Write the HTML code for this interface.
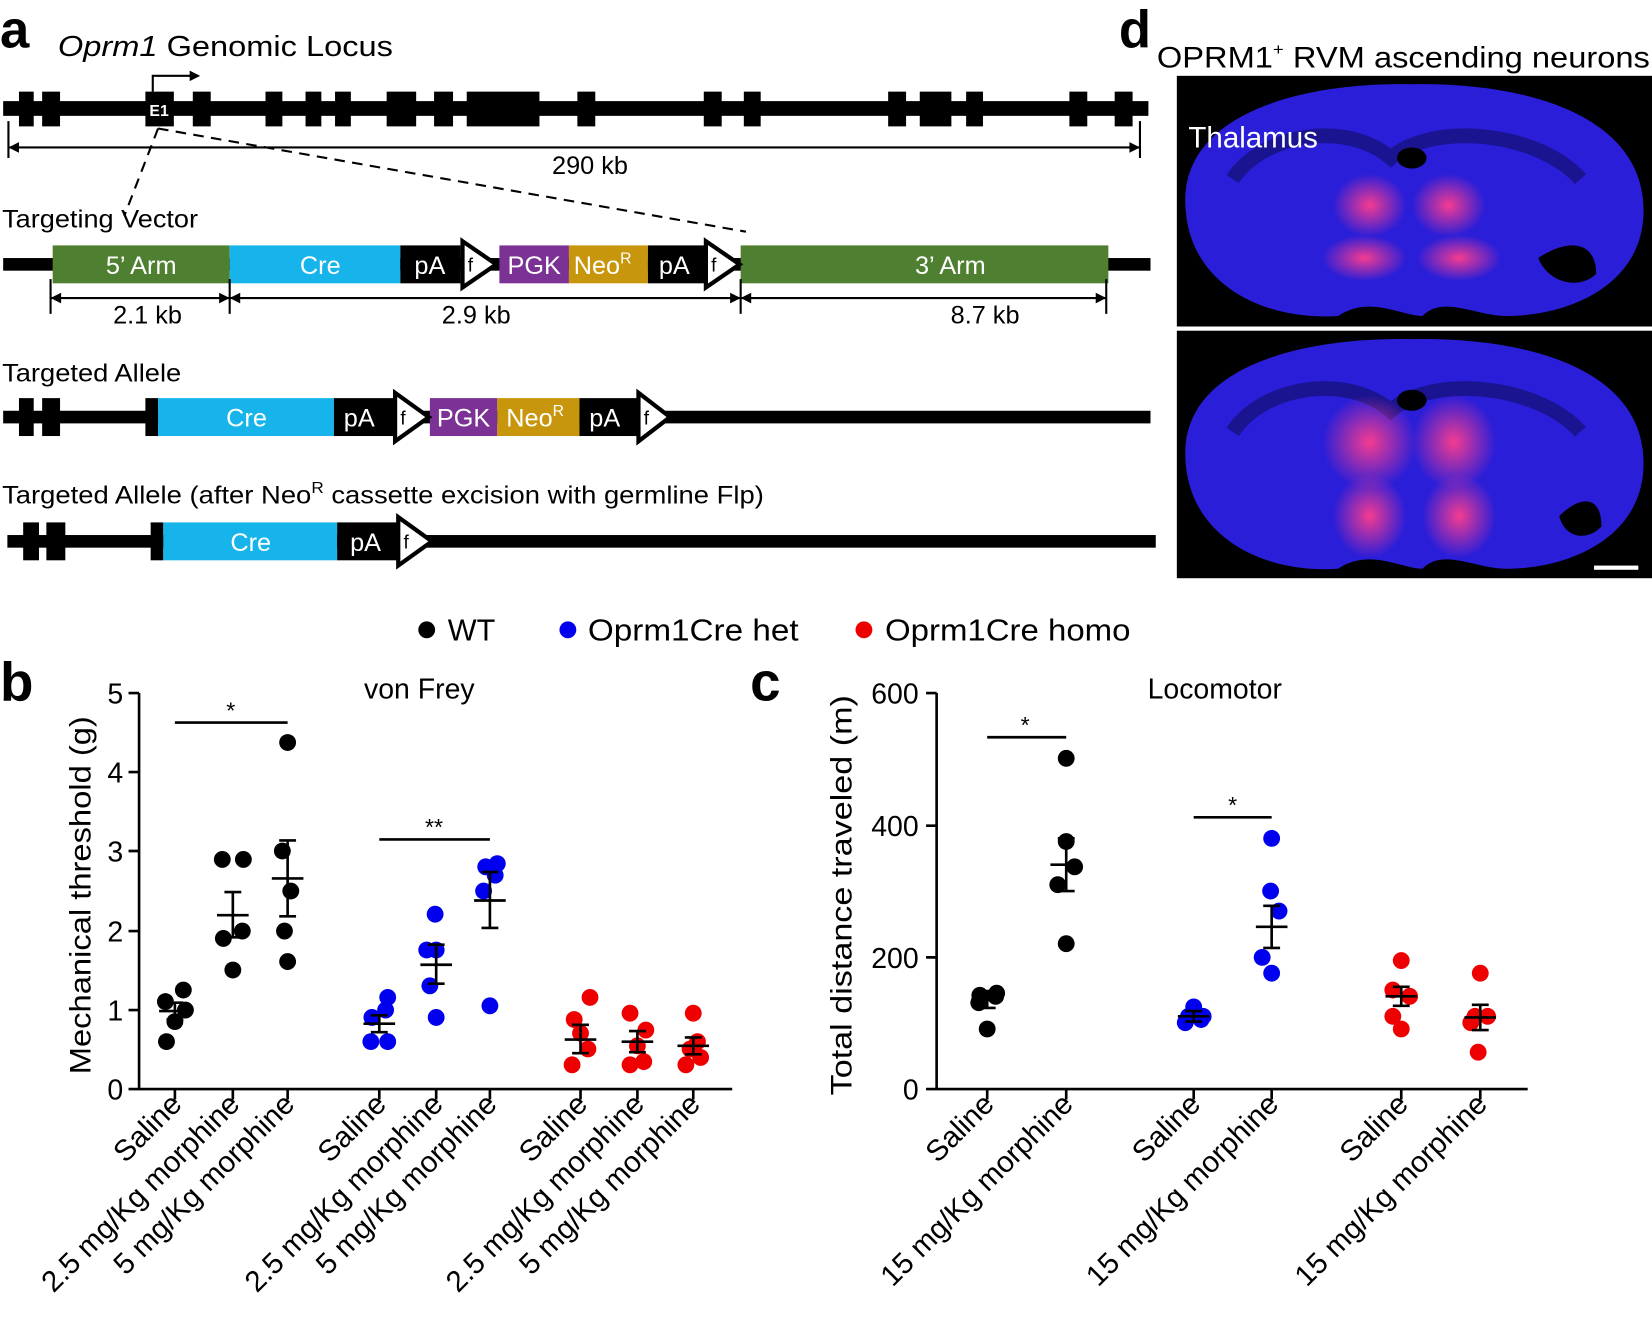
<!DOCTYPE html>
<html><head><meta charset="utf-8"><style>html,body{margin:0;padding:0;background:#fff}svg{display:block}text{font-family:"Liberation Sans",Arial,sans-serif}</style></head>
<body>
<svg width="1652" height="1326" viewBox="0 0 1568 1259" preserveAspectRatio="none" xmlns="http://www.w3.org/2000/svg">
<defs>
<radialGradient id="pk" cx="50%" cy="50%" r="50%"><stop offset="0" stop-color="#ff3d8c" stop-opacity="0.95"/><stop offset="1" stop-color="#ff3d8c" stop-opacity="0"/></radialGradient>
</defs>
<rect width="1568" height="1259" fill="#fff"/>
<!-- panel a -->
<text x="0" y="45" font-size="50" font-weight="bold">a</text>
<text x="55" y="53" font-size="27" textLength="318" lengthAdjust="spacingAndGlyphs"><tspan font-style="italic">Oprm1</tspan> Genomic Locus</text>
<rect x="3" y="96" width="1087" height="14" fill="#000"/>
<g fill="#000">
<rect x="18" y="87" width="14" height="33"/><rect x="40" y="87" width="17" height="33"/>
<rect x="138" y="87" width="27" height="33"/><rect x="183" y="87" width="17" height="33"/>
<rect x="252" y="87" width="16" height="33"/><rect x="290" y="87" width="15" height="33"/>
<rect x="318" y="87" width="15" height="33"/><rect x="367" y="87" width="28" height="33"/>
<rect x="412" y="87" width="18" height="33"/><rect x="443" y="87" width="69" height="33"/>
<rect x="548" y="87" width="17" height="33"/><rect x="668" y="87" width="17" height="33"/>
<rect x="706" y="87" width="16" height="33"/><rect x="843" y="87" width="17" height="33"/>
<rect x="873" y="87" width="30" height="33"/><rect x="917" y="87" width="16" height="33"/>
<rect x="1015" y="87" width="17" height="33"/><rect x="1058" y="87" width="17" height="33"/>
</g>
<text x="151" y="110" font-size="15" font-weight="bold" fill="#fff" text-anchor="middle">E1</text>
<path d="M145 87 V72 H182" stroke="#000" stroke-width="2" fill="none"/><path d="M180 67 L190 72 L180 77Z"/>
<line x1="8" y1="140" x2="1082" y2="140" stroke="#000" stroke-width="2"/>
<line x1="8" y1="115" x2="8" y2="150" stroke="#000" stroke-width="2"/><line x1="1082" y1="115" x2="1082" y2="150" stroke="#000" stroke-width="2"/>
<path d="M18 135 L8 140 L18 145Z"/><path d="M1072 135 L1082 140 L1072 145Z"/>
<text x="560" y="165" font-size="24" text-anchor="middle">290 kb</text>
<path d="M150 122 L118 205 M150 122 L708 220" stroke="#000" stroke-width="2" stroke-dasharray="10,7" fill="none"/>
<text x="2" y="216" font-size="24" textLength="186" lengthAdjust="spacingAndGlyphs">Targeting Vector</text>
<rect x="3" y="245" width="1089" height="12" fill="#000"/>
<g font-size="24" fill="#fff" text-anchor="middle">
<rect x="50" y="233" width="168" height="36" fill="#4f7f31"/><text x="134" y="260">5’ Arm</text>
<rect x="218" y="233" width="162" height="36" fill="#16b4ea"/><text x="304" y="260">Cre</text>
<rect x="380" y="233" width="57" height="36" fill="#000"/><text x="408" y="260">pA</text>
<rect x="474" y="233" width="66" height="36" fill="#7b3294"/><text x="507" y="260">PGK</text>
<rect x="540" y="233" width="75" height="36" fill="#c8960c"/><text x="572" y="260">Neo<tspan font-size="15" dy="-10">R</tspan></text>
<rect x="615" y="233" width="55" height="36" fill="#000"/><text x="640" y="260">pA</text>
<rect x="703" y="233" width="349" height="36" fill="#4f7f31"/><text x="902" y="260">3’ Arm</text>
</g>
<path d="M439 229 L471 251 L439 273Z" fill="#fff" stroke="#000" stroke-width="4"/><text x="444" y="258" font-size="18">f</text>
<path d="M670 229 L702 251 L670 273Z" fill="#fff" stroke="#000" stroke-width="4"/><text x="675" y="258" font-size="18">f</text>
<line x1="48" y1="283" x2="1050" y2="283" stroke="#000" stroke-width="2"/>
<g stroke="#000" stroke-width="2"><line x1="48" y1="265" x2="48" y2="298"/><line x1="218" y1="265" x2="218" y2="298"/><line x1="703" y1="265" x2="703" y2="298"/><line x1="1050" y1="265" x2="1050" y2="298"/></g>
<path d="M58 278 L48 283 L58 288Z M208 278 L218 283 L208 288Z M228 278 L218 283 L228 288Z M693 278 L703 283 L693 288Z M713 278 L703 283 L713 288Z M1040 278 L1050 283 L1040 288Z"/>
<text x="140" y="307" font-size="24" text-anchor="middle">2.1 kb</text>
<text x="452" y="307" font-size="24" text-anchor="middle">2.9 kb</text>
<text x="935" y="307" font-size="24" text-anchor="middle">8.7 kb</text>
<text x="2" y="362" font-size="24" textLength="170" lengthAdjust="spacingAndGlyphs">Targeted Allele</text>
<rect x="3" y="390" width="1089" height="12" fill="#000"/>
<rect x="18" y="378" width="14" height="36"/><rect x="40" y="378" width="17" height="36"/><rect x="138" y="378" width="12" height="36"/>
<g font-size="24" fill="#fff" text-anchor="middle">
<rect x="150" y="378" width="167" height="36" fill="#16b4ea"/><text x="234" y="405">Cre</text>
<rect x="317" y="378" width="57" height="36" fill="#000"/><text x="341" y="405">pA</text>
<rect x="408" y="378" width="64" height="36" fill="#7b3294"/><text x="440" y="405">PGK</text>
<rect x="472" y="378" width="78" height="36" fill="#c8960c"/><text x="508" y="405">Neo<tspan font-size="15" dy="-10">R</tspan></text>
<rect x="550" y="378" width="55" height="36" fill="#000"/><text x="574" y="405">pA</text>
</g>
<path d="M375 373 L407 396 L375 419Z" fill="#fff" stroke="#000" stroke-width="4"/><text x="380" y="403" font-size="18">f</text>
<path d="M606 373 L636 396 L606 419Z" fill="#fff" stroke="#000" stroke-width="4"/><text x="611" y="403" font-size="18">f</text>
<text x="2" y="478" font-size="24" textLength="723" lengthAdjust="spacingAndGlyphs">Targeted Allele (after Neo<tspan font-size="15" dy="-10">R</tspan><tspan dy="10"> cassette excision with germline Flp)</tspan></text>
<rect x="7" y="508" width="1090" height="12" fill="#000"/>
<rect x="22" y="496" width="15" height="36"/><rect x="44" y="496" width="18" height="36"/><rect x="143" y="496" width="12" height="36"/>
<g font-size="24" fill="#fff" text-anchor="middle">
<rect x="155" y="496" width="165" height="36" fill="#16b4ea"/><text x="238" y="523">Cre</text>
<rect x="320" y="496" width="57" height="36" fill="#000"/><text x="347" y="523">pA</text>
</g>
<path d="M378 491 L410 514 L378 537Z" fill="#fff" stroke="#000" stroke-width="4"/><text x="383" y="521" font-size="18">f</text>
<!-- panel d -->
<text x="1062" y="45" font-size="50" font-weight="bold">d</text>
<text x="1098" y="64" font-size="28" textLength="468" lengthAdjust="spacingAndGlyphs">OPRM1<tspan font-size="16" dy="-12">+</tspan><tspan dy="12"> RVM ascending neurons</tspan></text>
<rect x="1117" y="72" width="451" height="238" fill="#000"/>
<rect x="1117" y="314" width="451" height="235" fill="#000"/>
<path d="M1125 190 C1125 110 1230 78 1340 80 C1450 78 1560 110 1560 200 C1560 270 1490 300 1430 300 C1400 300 1370 280 1350 300 C1330 300 1300 280 1270 300 C1200 305 1125 270 1125 190Z" fill="#2a1ed8"/>
<path d="M1125 430 C1125 350 1230 320 1340 322 C1450 320 1560 350 1560 440 C1560 510 1490 540 1430 540 C1400 540 1370 520 1350 540 C1330 540 1300 520 1270 540 C1200 545 1125 510 1125 430Z" fill="#2a1ed8"/>
<path d="M1170 170 C1200 125 1280 115 1320 150 C1360 115 1460 125 1500 170" stroke="#1a1490" stroke-width="14" fill="none"/>
<path d="M1170 410 C1200 365 1280 355 1320 390 C1360 355 1460 365 1500 410" stroke="#1a1490" stroke-width="14" fill="none"/>
<ellipse cx="1300" cy="195" rx="35" ry="30" fill="url(#pk)"/><ellipse cx="1375" cy="195" rx="35" ry="30" fill="url(#pk)"/>
<ellipse cx="1295" cy="245" rx="40" ry="22" fill="url(#pk)"/><ellipse cx="1385" cy="245" rx="40" ry="22" fill="url(#pk)"/>
<ellipse cx="1300" cy="420" rx="45" ry="45" fill="url(#pk)"/><ellipse cx="1380" cy="420" rx="40" ry="45" fill="url(#pk)"/>
<ellipse cx="1300" cy="490" rx="35" ry="40" fill="url(#pk)"/><ellipse cx="1385" cy="490" rx="35" ry="40" fill="url(#pk)"/>
<ellipse cx="1340" cy="150" rx="14" ry="10" fill="#000"/><ellipse cx="1340" cy="380" rx="14" ry="10" fill="#000"/>
<path d="M1460 245 C1490 225 1515 230 1515 260 C1500 275 1470 270 1460 245Z" fill="#000"/>
<path d="M1480 490 C1500 470 1520 470 1520 500 C1505 515 1485 510 1480 490Z" fill="#000"/>
<text x="1128" y="140" font-size="28" fill="#fff">Thalamus</text>
<rect x="1513" y="537" width="42" height="4" fill="#fff"/>
<!-- legend -->
<g font-size="29">
<circle cx="405" cy="598" r="8"/><text x="425" y="608">WT</text>
<circle cx="539" cy="598" r="8" fill="#0000ee"/><text x="558" y="608" textLength="200" lengthAdjust="spacingAndGlyphs">Oprm1Cre het</text>
<circle cx="820" cy="598" r="8" fill="#ee0000"/><text x="840" y="608" textLength="233" lengthAdjust="spacingAndGlyphs">Oprm1Cre homo</text>
</g>
<!-- panel b -->
<text x="0" y="665" font-size="52" font-weight="bold">b</text>
<text x="398" y="663" font-size="27" text-anchor="middle">von Frey</text>
<g stroke="#000" stroke-width="2.5" fill="none">
<path d="M132 658 V1034 H695"/>
<path d="M122 658H132 M122 733H132 M122 808H132 M122 884H132 M122 959H132 M122 1034H132"/>
<path d="M166 1034v10 M221 1034v10 M273 1034v10 M360 1034v10 M414 1034v10 M465 1034v10 M551 1034v10 M605 1034v10 M658 1034v10"/>
<path d="M166 686H273 M360 797H465"/>
</g>
<g font-size="27" text-anchor="end"><text x="117" y="668">5</text><text x="117" y="743">4</text><text x="117" y="818">3</text><text x="117" y="894">2</text><text x="117" y="969">1</text><text x="117" y="1044">0</text></g>
<text x="219" y="682" font-size="22" text-anchor="middle">*</text>
<text x="412" y="793" font-size="22" text-anchor="middle">**</text>
<text transform="translate(86,850) rotate(-90)" font-size="28" text-anchor="middle" textLength="340" lengthAdjust="spacingAndGlyphs">Mechanical threshold (g)</text>
<g font-size="28" text-anchor="end">
<text transform="translate(174,1050) rotate(-45)">Saline</text>
<text transform="translate(229,1050) rotate(-45)">2.5 mg/Kg morphine</text>
<text transform="translate(281,1050) rotate(-45)">5 mg/Kg morphine</text>
<text transform="translate(368,1050) rotate(-45)">Saline</text>
<text transform="translate(422,1050) rotate(-45)">2.5 mg/Kg morphine</text>
<text transform="translate(473,1050) rotate(-45)">5 mg/Kg morphine</text>
<text transform="translate(559,1050) rotate(-45)">Saline</text>
<text transform="translate(613,1050) rotate(-45)">2.5 mg/Kg morphine</text>
<text transform="translate(666,1050) rotate(-45)">5 mg/Kg morphine</text>
</g>
<g fill="#000">
<circle cx="158" cy="989" r="8"/><circle cx="166" cy="970" r="8"/><circle cx="176" cy="959" r="8"/><circle cx="157" cy="951" r="8"/><circle cx="174" cy="940" r="8"/>
<circle cx="221" cy="921" r="8"/><circle cx="212" cy="891" r="8"/><circle cx="230" cy="884" r="8"/><circle cx="211" cy="816" r="8"/><circle cx="231" cy="816" r="8"/>
<circle cx="273" cy="913" r="8"/><circle cx="270" cy="884" r="8"/><circle cx="276" cy="846" r="8"/><circle cx="268" cy="808" r="8"/><circle cx="273" cy="705" r="8"/>
</g>
<g fill="#0000ee">
<circle cx="352" cy="989" r="8"/><circle cx="368" cy="989" r="8"/><circle cx="353" cy="966" r="8"/><circle cx="366" cy="959" r="8"/><circle cx="368" cy="947" r="8"/>
<circle cx="414" cy="966" r="8"/><circle cx="408" cy="936" r="8"/><circle cx="414" cy="902" r="8"/><circle cx="405" cy="902" r="8"/><circle cx="413" cy="868" r="8"/>
<circle cx="465" cy="955" r="8"/><circle cx="459" cy="846" r="8"/><circle cx="470" cy="831" r="8"/><circle cx="461" cy="823" r="8"/><circle cx="472" cy="820" r="8"/>
</g>
<g fill="#ee0000">
<circle cx="543" cy="1011" r="8"/><circle cx="558" cy="996" r="8"/><circle cx="551" cy="981" r="8"/><circle cx="545" cy="968" r="8"/><circle cx="560" cy="947" r="8"/>
<circle cx="598" cy="1011" r="8"/><circle cx="611" cy="1008" r="8"/><circle cx="605" cy="993" r="8"/><circle cx="613" cy="978" r="8"/><circle cx="598" cy="962" r="8"/>
<circle cx="651" cy="1011" r="8"/><circle cx="665" cy="1004" r="8"/><circle cx="655" cy="996" r="8"/><circle cx="662" cy="989" r="8"/><circle cx="658" cy="962" r="8"/>
</g>
<g stroke="#000" stroke-width="2.5">
<path d="M151 960H181 M158 952H174 M158 968H174 M166 952V968"/>
<path d="M206 869H236 M213 847H229 M213 890H229 M221 847V890"/>
<path d="M258 834H288 M265 798H281 M265 870H281 M273 798V870"/>
<path d="M345 972H375 M352 964H368 M352 980H368 M360 964V980"/>
<path d="M399 916H429 M406 897H422 M406 934H422 M414 897V934"/>
<path d="M450 855H480 M457 828H473 M457 881H473 M465 828V881"/>
<path d="M536 987H566 M543 973H559 M543 1000H559 M551 973V1000"/>
<path d="M590 989H620 M597 979H613 M597 999H613 M605 979V999"/>
<path d="M643 993H673 M650 985H666 M650 1001H666 M658 985V1001"/>
</g>
<!-- panel c -->
<text x="712" y="665" font-size="52" font-weight="bold">c</text>
<text x="1153" y="663" font-size="27" text-anchor="middle">Locomotor</text>
<g stroke="#000" stroke-width="2.5" fill="none">
<path d="M889 658 V1034 H1450"/>
<path d="M879 658H889 M879 784H889 M879 909H889 M879 1034H889"/>
<path d="M937 1034v10 M1012 1034v10 M1133 1034v10 M1207 1034v10 M1330 1034v10 M1405 1034v10"/>
<path d="M937 700H1012 M1133 776H1207"/>
</g>
<g font-size="27" text-anchor="end"><text x="872" y="668">600</text><text x="872" y="794">400</text><text x="872" y="919">200</text><text x="872" y="1044">0</text></g>
<text x="973" y="696" font-size="22" text-anchor="middle">*</text>
<text x="1170" y="772" font-size="22" text-anchor="middle">*</text>
<text transform="translate(808,850) rotate(-90)" font-size="28" text-anchor="middle" textLength="380" lengthAdjust="spacingAndGlyphs">Total distance traveled  (m)</text>
<g font-size="28" text-anchor="end">
<text transform="translate(945,1050) rotate(-45)">Saline</text>
<text transform="translate(1020,1050) rotate(-45)">15 mg/Kg morphine</text>
<text transform="translate(1141,1050) rotate(-45)">Saline</text>
<text transform="translate(1215,1050) rotate(-45)">15 mg/Kg morphine</text>
<text transform="translate(1338,1050) rotate(-45)">Saline</text>
<text transform="translate(1413,1050) rotate(-45)">15 mg/Kg morphine</text>
</g>
<g fill="#000">
<circle cx="937" cy="977" r="8"/><circle cx="929" cy="952" r="8"/><circle cx="945" cy="946" r="8"/><circle cx="930" cy="945" r="8"/><circle cx="946" cy="943" r="8"/>
<circle cx="1012" cy="896" r="8"/><circle cx="1004" cy="840" r="8"/><circle cx="1020" cy="823" r="8"/><circle cx="1012" cy="799" r="8"/><circle cx="1012" cy="720" r="8"/>
</g>
<g fill="#0000ee">
<circle cx="1125" cy="971" r="8"/><circle cx="1140" cy="968" r="8"/><circle cx="1128" cy="965" r="8"/><circle cx="1142" cy="965" r="8"/><circle cx="1133" cy="956" r="8"/>
<circle cx="1207" cy="924" r="8"/><circle cx="1198" cy="909" r="8"/><circle cx="1214" cy="865" r="8"/><circle cx="1206" cy="846" r="8"/><circle cx="1207" cy="796" r="8"/>
</g>
<g fill="#ee0000">
<circle cx="1330" cy="977" r="8"/><circle cx="1322" cy="965" r="8"/><circle cx="1338" cy="946" r="8"/><circle cx="1322" cy="940" r="8"/><circle cx="1330" cy="912" r="8"/>
<circle cx="1403" cy="999" r="8"/><circle cx="1396" cy="971" r="8"/><circle cx="1412" cy="965" r="8"/><circle cx="1400" cy="965" r="8"/><circle cx="1405" cy="924" r="8"/>
</g>
<g stroke="#000" stroke-width="2.5">
<path d="M922 949H952 M929 941H945 M929 957H945 M937 941V957"/>
<path d="M997 821H1027 M1004 796H1020 M1004 846H1020 M1012 796V846"/>
<path d="M1118 965H1148 M1125 960H1141 M1125 970H1141 M1133 960V970"/>
<path d="M1192 880H1222 M1199 860H1215 M1199 900H1215 M1207 860V900"/>
<path d="M1315 946H1345 M1322 937H1338 M1322 955H1338 M1330 937V955"/>
<path d="M1390 966H1420 M1397 954H1413 M1397 978H1413 M1405 954V978"/>
</g>
</svg>
</body></html>
